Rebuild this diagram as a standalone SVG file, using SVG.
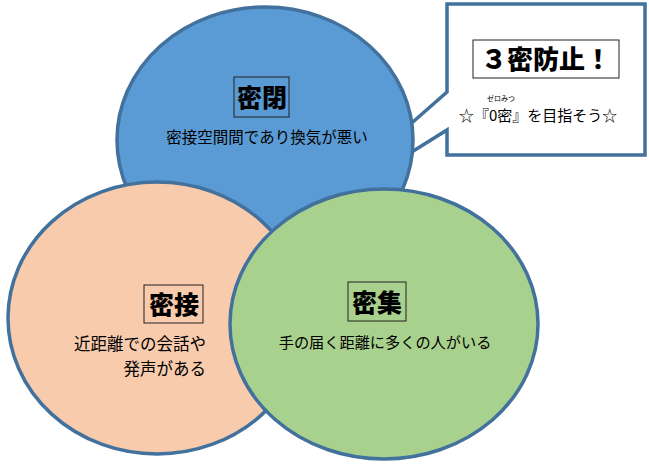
<svg xmlns="http://www.w3.org/2000/svg" width="649" height="469" viewBox="0 0 649 469">
<style>
.shape{stroke:#41719C;stroke-width:3.5}
.t{font-family:"Noto Sans CJK JP","Noto Sans",sans-serif;fill:#000}
.h{font-size:25px;font-weight:900;text-anchor:middle}
.b{font-size:15.5px}
.lbl{fill:none;stroke:#222;stroke-width:1}
</style>
<rect width="649" height="469" fill="#fff"/>
<g id="callout">
<path class="shape" fill="#fff" d="M447,4 H645 V155 H447 V130 L298,223 L447,92 Z"/>
<rect class="lbl" x="473" y="40" width="146" height="38"/>
<text class="t" x="546" y="69" font-size="26" font-weight="900" text-anchor="middle">３密防止！</text>
<text class="t" x="501" y="101" font-size="7" text-anchor="middle">ゼロみつ</text>
<text class="t" x="459" y="121" font-size="15">☆『0密』を目指そう☆</text>
</g>
<g id="mippei">
<ellipse class="shape" fill="#5B9BD5" cx="265" cy="140" rx="148" ry="133"/>
<rect class="lbl" x="234" y="77" width="55" height="40"/>
<text class="t h" x="262" y="107">密閉</text>
<text class="t b" x="267" y="143" text-anchor="middle">密接空間間であり換気が悪い</text>
</g>
<g id="missetsu">
<ellipse class="shape" fill="#F8CBAD" cx="157" cy="318" rx="149" ry="136"/>
<rect class="lbl" x="144" y="285" width="59" height="38"/>
<text class="t h" x="174" y="314">密接</text>
<text class="t" x="206" y="350" font-size="16.5" text-anchor="end">近距離での会話や</text>
<text class="t" x="206" y="375" font-size="16.5" text-anchor="end">発声がある</text>
</g>
<g id="misshuu">
<ellipse class="shape" fill="#A9D18E" cx="384" cy="324" rx="154" ry="135"/>
<rect class="lbl" x="348" y="282" width="58" height="39"/>
<text class="t h" x="377" y="312">密集</text>
<text class="t" x="385" y="348" font-size="15.2" text-anchor="middle">手の届く距離に多くの人がいる</text>
</g>
</svg>
